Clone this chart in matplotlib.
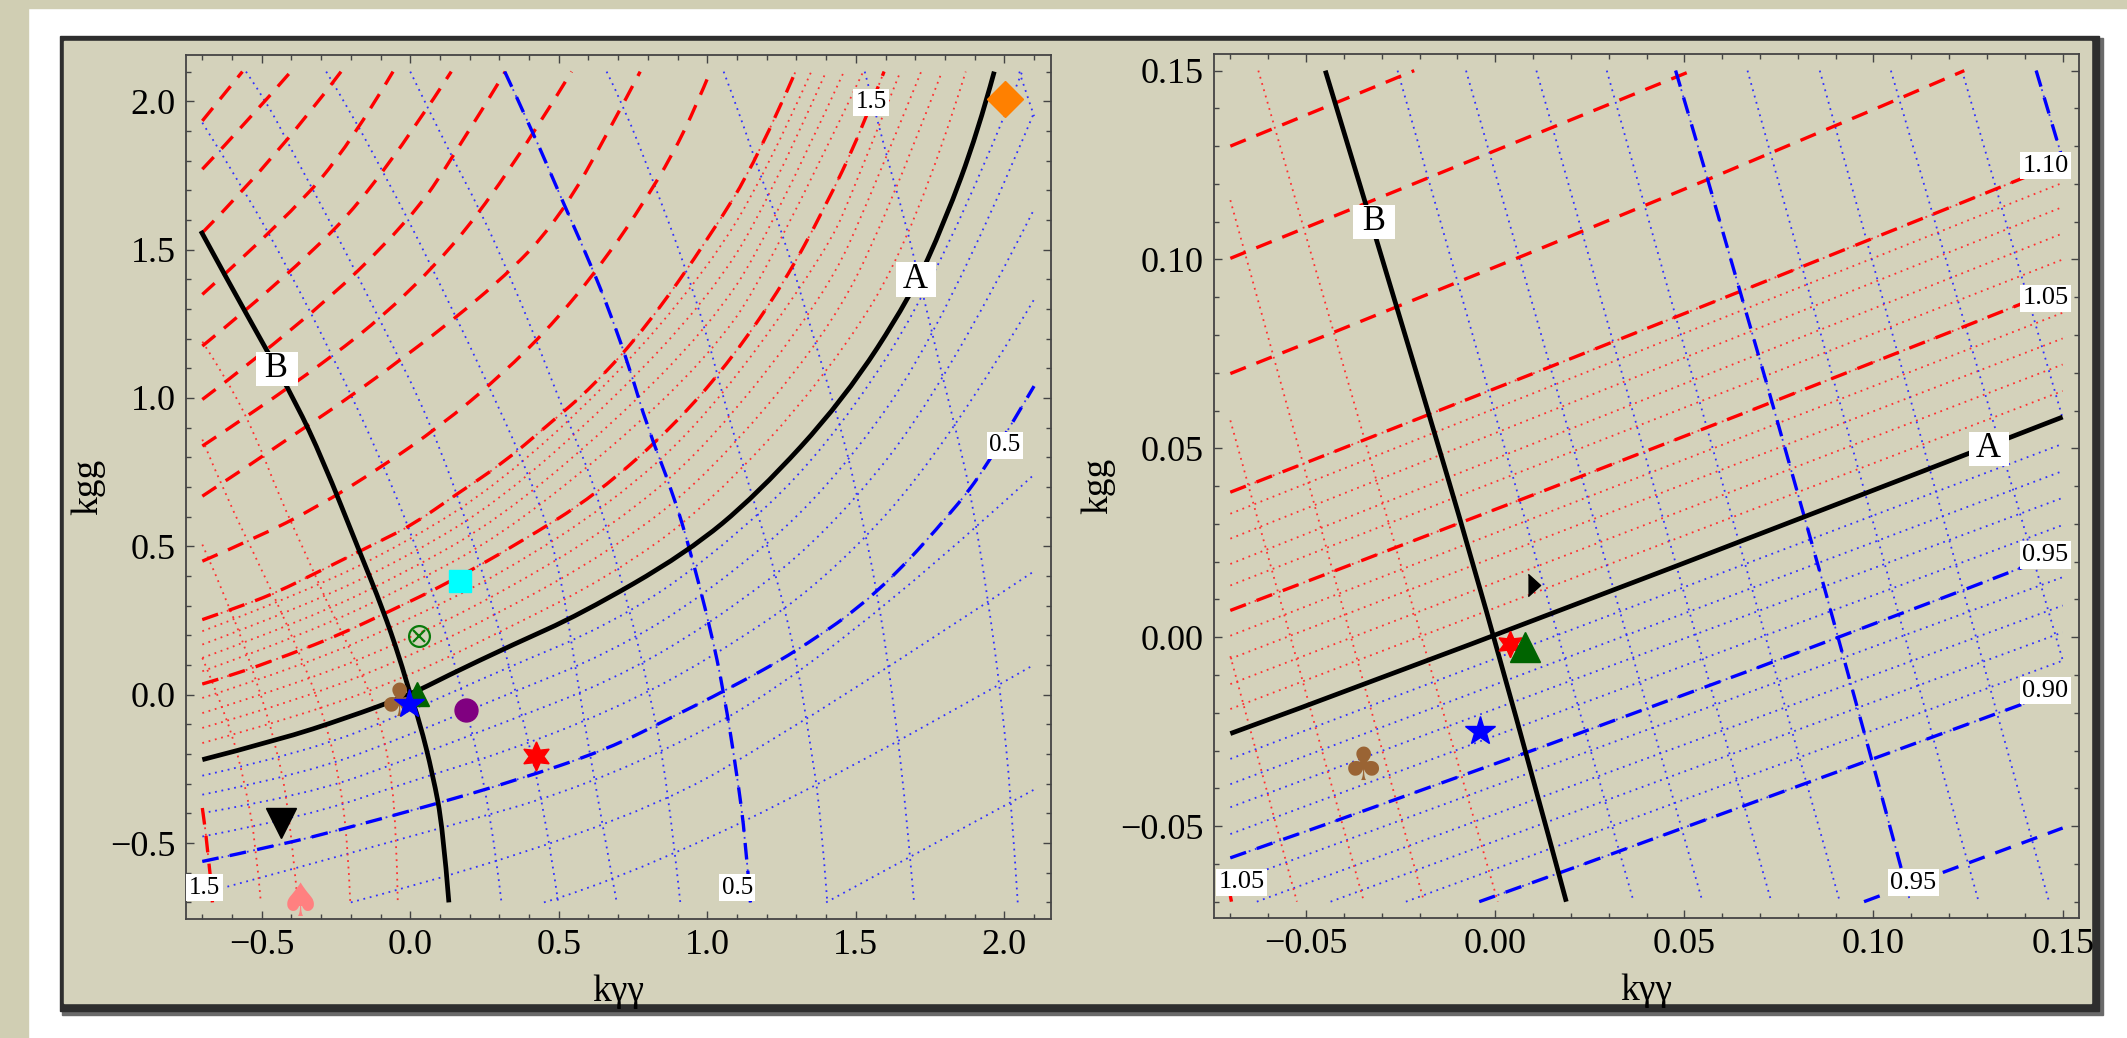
import matplotlib
matplotlib.use("Agg")
import matplotlib.pyplot as plt
from matplotlib.patches import Rectangle, PathPatch
from matplotlib.path import Path
from matplotlib.ticker import MultipleLocator, FixedLocator

plt.rcParams["font.family"] = "serif"
plt.rcParams["font.serif"] = ["Liberation Serif", "DejaVu Serif"]

W, H = 2127, 1038

# ---------------------------------------------------------------------------
# Left panel (kγγ, kgg in [-0.7, 2.1]); curves
# "h" family: shallow contours (A is level 1), "v" family: steep ones (B)
# ---------------------------------------------------------------------------
curve_a_left = [(-0.70, -0.219), (-0.441, -0.152), (-0.216, -0.079), (0.0, 0.0), (0.121, 0.062),
                (0.346, 0.169), (0.571, 0.27), (0.931, 0.478), (1.168, 0.675), (1.46, 0.995),
                (1.685, 1.343), (1.798, 1.591), (1.91, 1.894), (1.966, 2.10)]
curve_b_left = [(-0.705, 1.563), (-0.61, 1.388), (-0.497, 1.186), (-0.385, 0.984), (-0.295, 0.793),
                (-0.171, 0.483), (-0.092, 0.287), (-0.036, 0.124), (0.0, 0.0), (0.031, -0.09),
                (0.076, -0.27), (0.11, -0.45), (0.13, -0.70)]

lh_01 = [(1.40, -0.70), (2.10, -0.32)]
lh_02 = [(0.45, -0.70), (0.673, -0.635), (1.4, -0.30), (2.10, 0.101)]
lh_03 = [(-0.20, -0.70), (0.673, -0.47), (1.4, -0.05), (2.10, 0.416)]
lh_04 = [(-0.70, -0.67), (0.0, -0.48), (0.673, -0.287), (1.4, 0.10), (2.10, 0.742)]
lh_05 = [(-0.70, -0.562), (-0.435, -0.506), (-0.216, -0.45), (0.076, -0.371), (0.346, -0.292),
         (0.661, -0.186), (0.898, -0.067), (1.055, 0.011), (1.302, 0.146), (1.572, 0.337),
         (1.842, 0.635), (1.955, 0.793), (2.10, 1.04)]
lh_06 = [(-0.70, -0.478), (-0.35, -0.411), (0.0, -0.292), (0.3, -0.20), (0.673, -0.056),
         (1.0, 0.115), (1.4, 0.384), (1.8, 0.827), (2.10, 1.332)]
lh_07 = [(-0.70, -0.399), (-0.35, -0.339), (0.0, -0.214), (0.3, -0.10), (0.673, 0.045),
         (1.0, 0.231), (1.4, 0.535), (1.8, 1.04), (2.10, 1.636)]
lh_08 = [(-0.70, -0.337), (-0.35, -0.266), (0.0, -0.135), (0.3, -0.01), (0.673, 0.141),
         (1.0, 0.341), (1.4, 0.678), (1.8, 1.242), (2.10, 1.962)]
lh_09 = [(-0.70, -0.273), (-0.35, -0.194), (0.0, -0.056), (0.3, 0.08), (0.673, 0.236),
         (1.0, 0.451), (1.4, 0.82), (1.8, 1.442), (2.06, 2.10)]
lh_11 = [(-0.70, -0.163), (-0.35, -0.066), (0.0, 0.065), (0.3, 0.21), (0.673, 0.399),
         (1.0, 0.635), (1.4, 1.07), (1.7, 1.55), (1.87, 2.10)]
lh_12 = [(-0.70, -0.112), (-0.35, -0.01), (0.0, 0.13), (0.3, 0.275), (0.673, 0.483),
         (1.0, 0.735), (1.4, 1.21), (1.6, 1.6), (1.79, 2.10)]
lh_13 = [(-0.70, -0.062), (-0.35, 0.046), (0.0, 0.19), (0.3, 0.34), (0.673, 0.562),
         (1.0, 0.835), (1.4, 1.35), (1.55, 1.68), (1.72, 2.10)]
lh_14 = [(-0.70, -0.011), (-0.35, 0.102), (0.0, 0.255), (0.3, 0.405), (0.673, 0.641),
         (1.0, 0.935), (1.4, 1.49), (1.5, 1.72), (1.65, 2.10)]
lh_15 = [(-0.70, 0.036), (-0.61, 0.062), (-0.407, 0.135), (-0.238, 0.202), (-0.058, 0.287),
         (0.121, 0.373), (0.358, 0.506), (0.628, 0.675), (0.898, 0.916), (1.089, 1.141),
         (1.258, 1.388), (1.393, 1.636), (1.516, 1.894), (1.595, 2.10)]
lh_16 = [(-0.70, 0.079), (-0.35, 0.205), (0.0, 0.37), (0.3, 0.533), (0.673, 0.826),
         (1.0, 1.135), (1.2, 1.418), (1.525, 2.10)]
lh_17 = [(-0.70, 0.124), (-0.35, 0.252), (0.0, 0.42), (0.3, 0.593), (0.673, 0.905),
         (1.0, 1.234), (1.2, 1.533), (1.46, 2.10)]
lh_18 = [(-0.70, 0.169), (-0.35, 0.30), (0.0, 0.47), (0.3, 0.653), (0.673, 0.984),
         (1.0, 1.333), (1.2, 1.648), (1.40, 2.10)]
lh_19 = [(-0.70, 0.214), (-0.35, 0.347), (0.0, 0.52), (0.3, 0.712), (0.673, 1.051),
         (1.0, 1.433), (1.2, 1.763), (1.35, 2.10)]
lh_20 = [(-0.70, 0.253), (-0.553, 0.304), (-0.441, 0.349), (-0.328, 0.405), (-0.193, 0.472),
         (-0.103, 0.517), (0.009, 0.573), (0.155, 0.675), (0.313, 0.781), (0.459, 0.905),
         (0.616, 1.04), (0.797, 1.242), (1.01, 1.546), (1.168, 1.804), (1.297, 2.10)]
lh_25 = [(-0.70, 0.45), (-0.52, 0.528), (-0.317, 0.63), (-0.1, 0.765), (0.1, 0.905), (0.3, 1.07),
         (0.5, 1.27), (0.673, 1.49), (0.785, 1.658), (0.881, 1.816), (0.965, 1.99), (1.01, 2.10)]
lh_30 = [(-0.70, 0.669), (-0.35, 0.90), (0.0, 1.15), (0.3, 1.39), (0.5, 1.60), (0.68, 1.92),
         (0.774, 2.10)]
lh_35 = [(-0.70, 0.838), (-0.35, 1.07), (0.0, 1.35), (0.3, 1.70), (0.543, 2.10)]
lh_40 = [(-0.70, 0.995), (-0.35, 1.26), (0.0, 1.60), (0.15, 1.82), (0.32, 2.10)]
lh_45 = [(-0.70, 1.175), (-0.40, 1.42), (-0.10, 1.73), (0.138, 2.10)]
lh_50 = [(-0.70, 1.349), (-0.40, 1.62), (-0.20, 1.86), (-0.058, 2.10)]
lh_55 = [(-0.70, 1.557), (-0.45, 1.81), (-0.233, 2.10)]
lh_60 = [(-0.70, 1.771), (-0.55, 1.93), (-0.402, 2.10)]
lh_65 = [(-0.70, 1.934), (-0.565, 2.10)]

lv_01 = [(2.05, 2.10), (2.10, 1.95)]
lv_02 = [(1.53, 2.10), (1.606, 1.804), (1.662, 1.613), (1.73, 1.332), (1.797, 1.051), (1.853, 0.826),
         (1.887, 0.675), (1.943, 0.337), (1.988, 0.0), (2.022, -0.337), (2.045, -0.70)]
lv_03 = [(1.055, 2.10), (1.111, 1.951), (1.179, 1.748), (1.257, 1.546), (1.347, 1.242),
         (1.404, 1.051), (1.46, 0.86), (1.505, 0.67), (1.572, 0.349), (1.617, 0.045),
         (1.651, -0.225), (1.674, -0.45), (1.696, -0.70)]
lv_04 = [(0.661, 2.10), (0.718, 1.985), (0.82, 1.725), (0.921, 1.456), (1.0, 1.209), (1.055, 0.996),
         (1.13, 0.74), (1.235, 0.393), (1.302, 0.112), (1.347, -0.169), (1.381, -0.393), (1.404, -0.70)]
lv_05 = [(0.318, 2.10), (0.414, 1.894), (0.515, 1.658), (0.605, 1.456), (0.673, 1.287), (0.74, 1.096),
         (0.797, 0.905), (0.886, 0.675), (0.943, 0.483), (1.01, 0.225), (1.055, 0.011),
         (1.10, -0.27), (1.128, -0.483), (1.145, -0.70)]
lv_06 = [(0.0, 2.10), (0.121, 1.849), (0.234, 1.636), (0.335, 1.411), (0.414, 1.22), (0.493, 1.017),
         (0.571, 0.826), (0.628, 0.68), (0.74, 0.281), (0.807, 0.0), (0.864, -0.281), (0.909, -0.70)]
lv_07 = [(-0.283, 2.10), (-0.193, 1.95), (-0.103, 1.782), (-0.013, 1.613), (0.076, 1.433),
         (0.234, 1.107), (0.403, 0.736), (0.50, 0.45), (0.57, 0.0), (0.64, -0.40), (0.695, -0.70)]
lv_08 = [(-0.553, 2.10), (-0.475, 1.984), (-0.407, 1.849), (-0.25, 1.557), (-0.092, 1.242),
         (0.065, 0.927), (0.22, 0.50), (0.36, 0.0), (0.455, -0.40), (0.498, -0.70)]
lv_09 = [(-0.70, 1.928), (-0.553, 1.692), (-0.407, 1.428), (-0.261, 1.141), (-0.103, 0.804),
         (0.009, 0.528), (0.11, 0.247), (0.189, -0.045), (0.273, -0.405), (0.307, -0.70)]
lv_11 = [(-0.70, 1.19), (-0.61, 1.051), (-0.52, 0.871), (-0.441, 0.669), (-0.351, 0.472),
         (-0.261, 0.27), (-0.182, 0.112), (-0.115, -0.045), (-0.07, -0.225), (-0.047, -0.45),
         (-0.042, -0.70)]
lv_12 = [(-0.70, 0.86), (-0.621, 0.669), (-0.497, 0.416), (-0.385, 0.169), (-0.295, -0.056),
         (-0.238, -0.281), (-0.21, -0.506), (-0.202, -0.70)]
lv_13 = [(-0.70, 0.506), (-0.61, 0.304), (-0.52, 0.056), (-0.452, -0.169), (-0.407, -0.393),
         (-0.379, -0.70)]
lv_14 = [(-0.70, 0.124), (-0.61, -0.09), (-0.553, -0.315), (-0.52, -0.506), (-0.503, -0.70)]
lv_15 = [(-0.70, -0.382), (-0.677, -0.54), (-0.666, -0.70)]

left_labels = [("1.5", 1.551, 1.997), ("0.5", 2.002, 0.841), ("1.5", -0.693, -0.650), ("0.5", 1.101, -0.650)]
left_names = [("A", 1.702, 1.399), ("B", -0.450, 1.098)]

# ---------------------------------------------------------------------------
# Right panel (zoom on [-0.07, 0.15]); contours are nearly straight here
# ---------------------------------------------------------------------------
curve_a_right = [(-0.07, -0.0255), (0.0, 0.0), (0.15, 0.0583)]
curve_b_right = [(-0.0449, 0.15), (-0.0255, 0.086), (0.0, 0.0), (0.0188, -0.07)]

# shallow family, dotted 0.01 steps: start point, end is on the right edge
rh_levels = [0.91, 0.92, 0.93, 0.94, 0.96, 0.97, 0.98, 0.99, 1.01, 1.02, 1.03, 1.04, 1.06, 1.07, 1.08, 1.09]
rh_x0 = [-0.0236, -0.0435, -0.063, -0.07, -0.07, -0.07, -0.07, -0.07, -0.07, -0.07, -0.07, -0.07,
         -0.07, -0.07, -0.07, -0.07]
rh_y0 = [-0.07, -0.07, -0.07, -0.065, -0.0521, -0.045, -0.0389, -0.0322, -0.019, -0.0124, -0.0057,
         0.0004, 0.0137, 0.0194, 0.0261, 0.0327]
rh_y1 = [-0.0062, 0.0013, 0.0084, 0.0159, 0.0297, 0.0369, 0.044, 0.0512, 0.0652, 0.0722, 0.0791,
         0.0859, 0.10, 0.1069, 0.1139, 0.1203]

rh_085 = [(0.0975, -0.07), (0.15, -0.0505)]
rh_090 = [(-0.0042, -0.07), (0.0384, -0.0548), (0.15, -0.0138)]
rh_095 = [(-0.07, -0.0584), (0.0408, -0.0197), (0.15, 0.0226)]
rh_105 = [(-0.07, 0.0071), (0.0384, 0.0481), (0.15, 0.0926)]
rh_110 = [(-0.07, 0.0384), (0.0388, 0.0808), (0.15, 0.1258)]
rh_115 = [(-0.07, 0.0698), (0.0388, 0.1131), (0.124, 0.15)]
rh_120 = [(-0.07, 0.1003), (0.052, 0.15)]
rh_125 = [(-0.07, 0.13), (-0.0214, 0.15)]

# steep family, dotted 0.01 steps: top and bottom points
rv_levels = [0.91, 0.92, 0.93, 0.94, 0.96, 0.97, 0.98, 0.99, 1.01, 1.02, 1.03, 1.04]
rv_x0 = [0.1234, 0.1046, 0.0858, 0.0667, 0.0295, 0.0109, -0.0077, -0.0258, -0.0626, -0.07, -0.07, -0.07]
rv_y0 = [0.15, 0.15, 0.15, 0.15, 0.15, 0.15, 0.15, 0.15, 0.15, 0.1157, 0.0574, -0.005]
rv_x1 = [0.15, 0.15, 0.1464, 0.1278, 0.0911, 0.073, 0.0548, 0.0366, 0.0007, -0.0188, -0.0347, -0.0524]
rv_y1 = [0.058, -0.006, -0.07, -0.07, -0.07, -0.07, -0.07, -0.07, -0.07, -0.07, -0.07, -0.07]

rv_090 = [(0.143, 0.15), (0.15, 0.1265)]
rv_095 = [(0.0477, 0.15), (0.0804, 0.0395), (0.1097, -0.07)]
rv_105 = [(-0.07, -0.0685), (-0.0697, -0.07)]

right_labels = [("1.10", 0.1455, 0.1248), ("1.05", 0.1455, 0.0897), ("0.95", 0.1454, 0.0218),
                ("0.90", 0.1454, -0.0141), ("0.95", 0.1105, -0.065), ("1.05", -0.0671, -0.0649)]
right_names = [("A", 0.1305, 0.0499), ("B", -0.032, 0.110)]

# ---------------------------------------------------------------------------
SERIF = "Liberation Serif"
DOT_R = dict(color="#ff3030", lw=1.3, ls=(0, (1, 2.6)))
DOT_B = dict(color="#3030ff", lw=1.3, ls=(0, (1, 2.6)))
DASH_R = dict(color="#ff0000", lw=2.4, ls=(0, (5, 3.4)))
DASH_B = dict(color="#0000ff", lw=2.4, ls=(0, (5, 3.4)))
SOLID = dict(color="black", lw=3.4, ls="-")
BEIGE = "#d4d2bb"


def trace(ax, pts, style):
    # smooth the read points with quadratic segments (points act as control points)
    if len(pts) < 3:
        verts, codes = list(pts), [Path.MOVETO, Path.LINETO]
    else:
        verts, codes = [pts[0]], [Path.MOVETO]
        for i in range(1, len(pts) - 1):
            if i < len(pts) - 2:
                end = ((pts[i][0] + pts[i + 1][0]) / 2, (pts[i][1] + pts[i + 1][1]) / 2)
            else:
                end = pts[-1]
            verts += [pts[i], end]
            codes += [Path.CURVE3, Path.CURVE3]
    ax.add_patch(PathPatch(Path(verts, codes), fill=False, edgecolor=style["color"],
                           lw=style["lw"], ls=style["ls"], capstyle="butt", zorder=3))


def fig_rect(fig, x0, y0, x1, y1, **kw):
    fig.patches.append(Rectangle((x0 / W, 1 - y1 / H), (x1 - x0) / W, (y1 - y0) / H,
                                 transform=fig.transFigure, zorder=-10, **kw))


def style_axes(ax, lim, major, minor, fmt):
    ax.set_xlim(*lim)
    ax.set_ylim(*lim)
    ax.set_facecolor("none")
    labels = [fmt.format(t).replace("-", "\u2212") for t in major]
    for axis in (ax.xaxis, ax.yaxis):
        axis.set_major_locator(FixedLocator(major))
        axis.set_minor_locator(MultipleLocator(minor))
    ax.set_xticklabels(labels, fontfamily=SERIF, fontsize=26)
    ax.set_yticklabels(labels, fontfamily=SERIF, fontsize=26)
    ax.tick_params(which="both", direction="in", top=True, right=True, color="#444444", width=1.0)
    ax.tick_params(which="major", length=6, pad=7)
    ax.tick_params(which="minor", length=3.5)
    for sp in ax.spines.values():
        sp.set_color("#444444")
        sp.set_linewidth(1.3)
    ax.set_xlabel("k\u03b3\u03b3", fontsize=27, fontfamily=SERIF, labelpad=9)
    ax.set_ylabel("kgg", fontsize=27, fontfamily=SERIF, labelpad=4)


def put_label(ax, txt, x, y, size, pad=0.1):
    ax.text(x, y, txt, fontsize=size, fontfamily=SERIF, ha="center", va="center", zorder=6,
            bbox=dict(facecolor="white", edgecolor="none", boxstyle="square,pad=%g" % pad))


fig = plt.figure(figsize=(W / 100, H / 100), dpi=100)
fig.patch.set_facecolor("white")
fig_rect(fig, 0, 0, 28, H, color="#d0ceb3")
fig_rect(fig, 0, 0, W, 8, color="#d0ceb3")
fig_rect(fig, 62, 38, 2103, 1015, color="#6a6a6a")
fig_rect(fig, 60, 36, 2099, 1011, color="#2e2e2e")
fig_rect(fig, 64, 41, 2091, 1003, color=BEIGE)

# ---------------- left panel ----------------
axl = fig.add_axes([185.7 / W, 1 - 919 / H, 865 / W, 864 / H])
for pts in [lh_01, lh_02, lh_03, lh_04, lh_05, lh_06, lh_07, lh_08, lh_09]:
    trace(axl, pts, DOT_B)
for pts in [lh_11, lh_12, lh_13, lh_14, lh_15, lh_16, lh_17, lh_18, lh_19, lh_20]:
    trace(axl, pts, DOT_R)
for pts in [lv_01, lv_02, lv_03, lv_04, lv_05, lv_06, lv_07, lv_08, lv_09]:
    trace(axl, pts, DOT_B)
for pts in [lv_11, lv_12, lv_13, lv_14, lv_15]:
    trace(axl, pts, DOT_R)
for pts in [lh_15, lh_20, lh_25, lh_30, lh_35, lh_40, lh_45, lh_50, lh_55, lh_60, lh_65, lv_15]:
    trace(axl, pts, DASH_R)
for pts in [lh_05, lv_05]:
    trace(axl, pts, DASH_B)
trace(axl, curve_a_left, SOLID)
trace(axl, curve_b_left, SOLID)
for txt, x, y in left_labels:
    put_label(axl, txt, x, y, 18)
for txt, x, y in left_names:
    put_label(axl, " %s " % txt, x, y, 25, pad=0.02)

axl.plot(0.169, 0.384, "s", color="#00ffff", ms=16.5, zorder=7)
axl.plot(0.028, 0.197, "o", mfc="none", mec="#0a7a0a", mew=1.6, ms=15, zorder=7)
axl.plot(0.028, 0.197, "x", color="#0a7a0a", mew=1.6, ms=9, zorder=7)
axl.text(-0.036, -0.028, "\u2663", family="DejaVu Sans", fontsize=33, color="#9a6434",
         ha="center", va="center", zorder=7)
axl.plot(0.022, 0.003, "^", color="#006400", ms=17, zorder=8)
axl.plot(-0.004, -0.031, "*", color="#0000ff", ms=22, zorder=9)
axl.plot(0.189, -0.051, "o", color="#800080", ms=16.5, zorder=7)
axl.plot(0.422, -0.208, marker=(6, 1, 0), color="#ff0000", ms=21, zorder=7)
axl.plot(-0.435, -0.433, "v", color="black", ms=22, zorder=7)
axl.text(-0.371, -0.703, "\u2660", family="DejaVu Sans", fontsize=33, color="#ff8080",
         ha="center", va="center", zorder=7)
axl.plot(2.003, 2.007, "D", color="#ff8000", ms=18, zorder=7)

style_axes(axl, (-0.756, 2.156), [-0.5, 0.0, 0.5, 1.0, 1.5, 2.0], 0.1, "{:.1f}")

# ---------------- right panel ----------------
axr = fig.add_axes([1213.7 / W, 1 - 918.3 / H, 865.6 / W, 864.3 / H])
for lev, x0, y0, y1 in zip(rh_levels, rh_x0, rh_y0, rh_y1):
    trace(axr, [(x0, y0), (0.15, y1)], DOT_R if lev > 1 else DOT_B)
for lev, x0, y0, x1, y1 in zip(rv_levels, rv_x0, rv_y0, rv_x1, rv_y1):
    trace(axr, [(x0, y0), (x1, y1)], DOT_R if lev > 1 else DOT_B)
for pts in [rh_090, rh_095, rv_090, rv_095]:
    trace(axr, pts, DOT_B)
for pts in [rh_105, rh_110, rv_105]:
    trace(axr, pts, DOT_R)
for pts in [rh_105, rh_110, rh_115, rh_120, rh_125, rv_105]:
    trace(axr, pts, DASH_R)
for pts in [rh_085, rh_090, rh_095, rv_090, rv_095]:
    trace(axr, pts, DASH_B)
trace(axr, curve_a_right, SOLID)
trace(axr, curve_b_right, SOLID)
for txt, x, y in right_labels:
    put_label(axr, txt, x, y, 19)
for txt, x, y in right_names:
    put_label(axr, " %s " % txt, x, y, 25, pad=0.02)

axr.plot(0.0103, 0.0139, marker=[(-0.55, -1), (0.55, 0), (-0.55, 1)], color="black", ms=16, zorder=7)
axr.plot(0.0038, -0.0018, marker=(6, 1, 0), color="#ff0000", ms=19, zorder=7)
axr.plot(0.0078, -0.0027, "^", color="#006400", ms=21, zorder=8)
axr.plot(-0.0039, -0.0247, "*", color="#0000ff", ms=22, zorder=7)
axr.text(-0.0347, -0.0345, "\u2663", family="DejaVu Sans", fontsize=33, color="#9a6434",
         ha="center", va="center", zorder=7)

style_axes(axr, (-0.0744, 0.1544), [-0.05, 0.0, 0.05, 0.10, 0.15], 0.01, "{:.2f}")

fig.savefig("out.png", dpi=100, facecolor=fig.get_facecolor())
